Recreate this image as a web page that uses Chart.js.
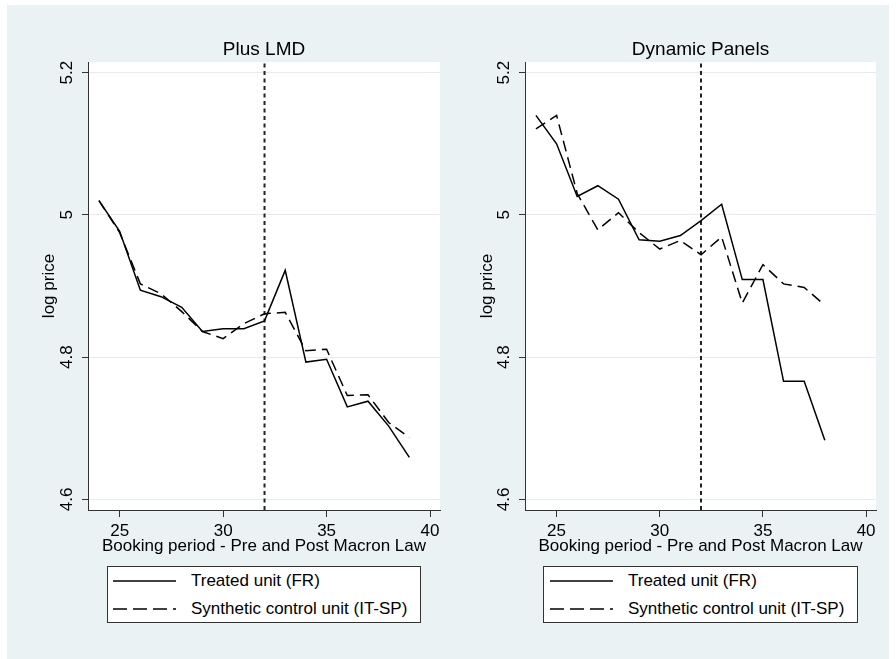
<!DOCTYPE html>
<html>
<head>
<meta charset="utf-8">
<title>Synthetic control - log price</title>
<script src="https://cdn.jsdelivr.net/npm/chart.js@4.4.0/dist/chart.umd.min.js"></script>
<style>
  body { margin: 0; background: #fff; font-family: "Liberation Sans", Arial, sans-serif; }
  #graph { position: absolute; left: 7px; top: 5px; width: 882px; height: 654px; background: #eaf2f3; }
  #graph canvas { position: absolute; top: 0; }
  .legend { position: absolute; top: 561px; height: 57px; box-sizing: border-box; background: #fff; border: 1px solid #333; }
  .legend .row { position: absolute; height: 28px; display: flex; align-items: center; font-size: 17px; color: #000; white-space: nowrap; }
  .legend svg { display: block; margin-right: 15px; }
</style>
</head>
<body>
<div id="graph">
  <canvas id="chart-lmd" width="439" height="555" style="left:0"></canvas>
  <canvas id="chart-dyn" width="439" height="555" style="left:439px"></canvas>
  <div class="legend" id="legend-lmd" style="left:100px;width:314px"></div>
  <div class="legend" id="legend-dyn" style="left:536px;width:315px"></div>
</div>
<script>
// Booking periods and log prices
const periodsLmd = [24, 25, 26, 27, 28, 29, 30, 31, 32, 33, 34, 35, 36, 37, 38, 39];
const treatedLmd = [5.020, 4.977, 4.894, 4.885, 4.870, 4.836, 4.840, 4.840, 4.851, 4.922, 4.793, 4.797, 4.730, 4.738, 4.703, 4.659];
const synthLmd   = [5.020, 4.975, 4.903, 4.889, 4.864, 4.836, 4.826, 4.847, 4.861, 4.863, 4.809, 4.811, 4.746, 4.747, 4.708, 4.687];

const periodsDyn = [24, 25, 26, 27, 28, 29, 30, 31, 32, 33, 34, 35, 36, 37, 38];
const treatedDyn = [5.140, 5.100, 5.026, 5.041, 5.022, 4.965, 4.963, 4.971, 4.992, 5.015, 4.909, 4.909, 4.766, 4.766, 4.683];
const synthDyn   = [5.121, 5.140, 5.030, 4.979, 5.003, 4.975, 4.952, 4.964, 4.944, 4.969, 4.876, 4.930, 4.903, 4.898, 4.873];

const treatmentPeriod = 32; // Macron law
const xTicks = [25, 30, 35, 40];
const yTicks = [4.6, 4.8, 5.0, 5.2];
const yTickLabels = ["4.6", "4.8", "5", "5.2"];
const seriesNames = ["Treated unit (FR)", "Synthetic control unit (IT-SP)"];

const X_MIN = 23.47, X_MAX = 40.48;
const Y_MIN = 4.585, Y_MAX = 5.215;
const FONT = '"Liberation Sans", Arial, sans-serif';

// white plot region like Stata's
const plotRegionBg = {
  id: 'plotRegionBg',
  beforeDraw(chart) {
    const { ctx, chartArea: a } = chart;
    ctx.save();
    ctx.fillStyle = '#ffffff';
    ctx.fillRect(a.left, a.top, a.right - a.left, a.bottom - a.top);
    ctx.restore();
  }
};

function toPoints(xs, ys) {
  return xs.map((x, i) => ({ x: x, y: ys[i] }));
}

function makePanel(id, title, periods, treated, synth, yAxisWidth, padRight, yTitlePad) {
  const ctx = document.getElementById(id).getContext('2d');
  return new Chart(ctx, {
    type: 'line',
    data: {
      datasets: [
        {
          label: seriesNames[0],
          data: toPoints(periods, treated),
          borderColor: '#000',
          borderWidth: 1.5,
          pointRadius: 0,
          tension: 0
        },
        {
          label: seriesNames[1],
          data: toPoints(periods, synth),
          borderColor: '#000',
          borderWidth: 1.5,
          borderDash: [11, 6],
          pointRadius: 0,
          tension: 0
        },
        {
          label: 'treatment',
          data: [{ x: treatmentPeriod, y: Y_MIN }, { x: treatmentPeriod, y: Y_MAX }],
          borderColor: '#222',
          borderWidth: 2,
          borderDash: [4, 3.5],
          pointRadius: 0
        }
      ]
    },
    options: {
      responsive: false,
      animation: false,
      devicePixelRatio: 1,
      layout: { padding: { left: 0, right: padRight, top: 0, bottom: 0 } },
      plugins: {
        legend: { display: false },
        tooltip: { enabled: false },
        title: {
          display: true,
          text: title,
          fullSize: false,
          color: '#000',
          font: { family: FONT, size: 19, weight: 'normal', lineHeight: 1.2 },
          padding: { top: 33, bottom: 1.2 }
        }
      },
      scales: {
        x: {
          type: 'linear',
          min: X_MIN,
          max: X_MAX,
          afterBuildTicks: s => { s.ticks = xTicks.map(v => ({ value: v })); },
          afterFit: s => { s.height = 50; },
          ticks: {
            color: '#000',
            font: { family: FONT, size: 17 },
            padding: 4,
            maxRotation: 0,
            autoSkip: false
          },
          grid: { drawOnChartArea: false, tickLength: 7, tickColor: '#333', tickWidth: 1 },
          border: { display: true, color: '#333', width: 1 },
          title: {
            display: true,
            text: 'Booking period - Pre and Post Macron Law',
            color: '#000',
            font: { family: FONT, size: 17, lineHeight: 1.2 },
            padding: { top: 0, bottom: 3.8 }
          }
        },
        y: {
          type: 'linear',
          min: Y_MIN,
          max: Y_MAX,
          afterBuildTicks: s => { s.ticks = yTicks.map(v => ({ value: v })); },
          afterFit: s => { s.width = yAxisWidth; },
          ticks: {
            color: '#000',
            font: { family: FONT, size: 17 },
            minRotation: 90,
            maxRotation: 90,
            crossAlign: 'center',
            padding: 3,
            callback: v => yTickLabels[yTicks.indexOf(v)]
          },
          grid: { color: '#e4eded', lineWidth: 1, tickLength: 6, tickColor: '#333' },
          border: { display: true, color: '#333', width: 1 },
          title: {
            display: true,
            text: 'log price',
            color: '#000',
            font: { family: FONT, size: 17, lineHeight: 1.2 },
            padding: { top: yTitlePad, bottom: 0 }
          }
        }
      }
    },
    plugins: [plotRegionBg]
  });
}

function buildLegend(id, sampleLeft) {
  const box = document.getElementById(id);
  const dashes = ['', '14 6'];
  seriesNames.forEach((name, i) => {
    const row = document.createElement('div');
    row.className = 'row';
    row.style.left = sampleLeft + 'px';
    row.style.top = (i * 28) + 'px';
    row.innerHTML =
      `<svg width="63" height="4"><line x1="0" y1="2" x2="63" y2="2" stroke="#000" stroke-width="1.5"` +
      (dashes[i] ? ` stroke-dasharray="${dashes[i]}"` : '') + `/></svg><span>${name}</span>`;
    box.appendChild(row);
  });
}

makePanel('chart-lmd', 'Plus LMD', periodsLmd, treatedLmd, synthLmd, 81, 6, 31.8);
makePanel('chart-dyn', 'Dynamic Panels', periodsDyn, treatedDyn, synthDyn, 79, 9, 30.8);
buildLegend('legend-lmd', 5);
buildLegend('legend-dyn', 6);
</script>
</body>
</html>
